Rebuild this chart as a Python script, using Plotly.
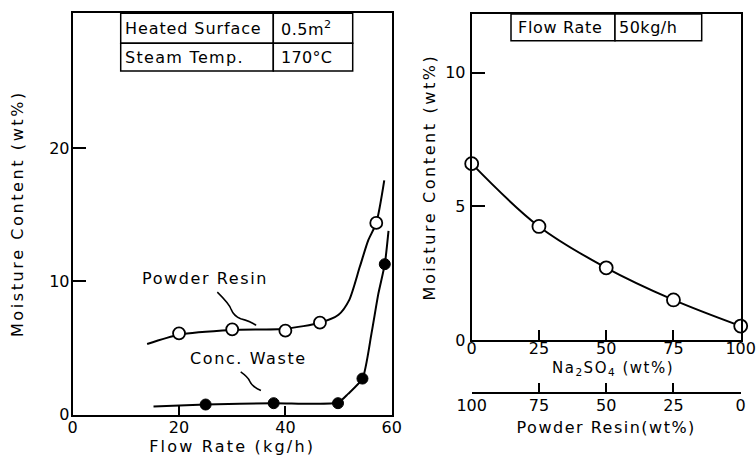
import plotly.graph_objects as go

# ---- Left panel data (moisture content vs flow rate) ----
flow_powder = [20, 30, 40, 46.5, 57.1]
moist_powder = [6.1, 6.4, 6.3, 6.9, 14.4]
flow_conc = [25, 37.8, 49.9, 54.5, 58.7]
moist_conc = [0.75, 0.85, 0.85, 2.7, 11.3]

# hand-drawn fitted curves
powder_curve_x = [14, 20, 30, 40, 46.5, 50, 52, 54, 55.6, 57.1, 58.6]
powder_curve_y = [5.3, 6.0, 6.35, 6.45, 6.9, 7.5, 8.6, 11.1, 13.1, 14.4, 17.6]
conc_curve_x = [15.2, 25, 37.8, 49.9, 51.8, 54.5, 56.2, 57.5, 58.7, 59.4]
conc_curve_y = [0.6, 0.75, 0.85, 0.9, 1.55, 2.7, 6.1, 9.1, 11.3, 13.8]

# ---- Right panel data (moisture content vs composition) ----
na2so4 = [0, 25, 50, 75, 100]
powder_resin_pct = [100, 75, 50, 25, 0]
moist_mix = [6.6, 4.25, 2.7, 1.5, 0.52]

left_xticks = [0, 20, 40, 60]
left_yticks = [0, 10, 20]
right_xticks = [0, 25, 50, 75, 100]
right_yticks = [0, 5, 10]

FONT = "DejaVu Sans"
W, H = 756, 456


def px(x):
    return x / W


def py(y):
    return 1 - y / H


def spaced(text, ls):
    return f'<span style="letter-spacing:{ls}px">{text}</span>'


fig = go.Figure()

line_style = dict(color="black", width=2)

fig.add_trace(go.Scatter(x=powder_curve_x, y=powder_curve_y, mode="lines",
                         line=dict(shape="spline", smoothing=0.7, **line_style),
                         xaxis="x", yaxis="y", hoverinfo="skip", showlegend=False))
fig.add_trace(go.Scatter(x=conc_curve_x, y=conc_curve_y, mode="lines",
                         line=dict(shape="spline", smoothing=0.6, **line_style),
                         xaxis="x", yaxis="y", hoverinfo="skip", showlegend=False))
fig.add_trace(go.Scatter(x=flow_powder, y=moist_powder, mode="markers",
                         marker=dict(symbol="circle", size=12, color="white",
                                     line=dict(color="black", width=1.8)),
                         xaxis="x", yaxis="y", name="Powder Resin", showlegend=False))
fig.add_trace(go.Scatter(x=flow_conc, y=moist_conc, mode="markers",
                         marker=dict(symbol="circle", size=11, color="black",
                                     line=dict(color="black", width=1)),
                         xaxis="x", yaxis="y", name="Conc. Waste", showlegend=False))

fig.add_trace(go.Scatter(x=na2so4, y=moist_mix, mode="lines",
                         line=dict(shape="spline", smoothing=1.0, **line_style),
                         xaxis="x2", yaxis="y2", hoverinfo="skip", showlegend=False))
fig.add_trace(go.Scatter(x=na2so4, y=moist_mix, mode="markers",
                         marker=dict(symbol="circle", size=13, color="white",
                                     line=dict(color="black", width=1.8)),
                         xaxis="x2", yaxis="y2", cliponaxis=False, showlegend=False))
# same points placed on the secondary (powder resin) scale, invisible, so the axis is drawn
fig.add_trace(go.Scatter(x=powder_resin_pct, y=moist_mix, mode="markers",
                         marker=dict(opacity=0), xaxis="x3", yaxis="y2",
                         hoverinfo="skip", showlegend=False))

tickfont = dict(family=FONT, size=16, color="black")
titlefont = dict(family=FONT, size=16, color="black")

common = dict(showline=True, linecolor="black", linewidth=2, mirror=True,
              ticks="inside", tickcolor="black", tickwidth=1.5, showgrid=False,
              zeroline=False, tickfont=tickfont, automargin=False)

fig.update_layout(
    width=W, height=H,
    margin=dict(l=0, r=0, t=0, b=0, pad=0, autoexpand=False),
    paper_bgcolor="white", plot_bgcolor="white",
    font=dict(family=FONT, color="black"),
    xaxis=dict(domain=[px(72.7), px(391.7)], range=[0, 60], tickvals=left_xticks,
               ticklen=9, anchor="y", ticklabelstandoff=-3,
               title=dict(text=spaced("Flow Rate (kg/h)", 2.2), font=titlefont, standoff=3),
               **common),
    yaxis=dict(domain=[py(414.5), py(12.7)], range=[0, 30.2], tickvals=left_yticks,
               ticklen=13, anchor="x", ticklabelstandoff=-2,
               title=dict(text=spaced("Moisture Content (wt%)", 2.6), font=titlefont, standoff=22),
               **common),
    xaxis2=dict(domain=[px(471.7), px(740.7)], range=[0, 100], tickvals=right_xticks,
                ticklen=10, anchor="y2", ticklabelstandoff=-7, **common),
    yaxis2=dict(domain=[py(340), py(14)], range=[0, 12.2], tickvals=right_yticks,
                ticklen=13, anchor="x2", ticklabelstandoff=1,
                title=dict(text=spaced("Moisture Content (wt%)", 2.6), font=titlefont, standoff=6),
                **common),
    xaxis3=dict(overlaying="x2", anchor="free", position=py(393.3), side="bottom",
                range=[100, 0], tickvals=right_xticks, ticks="inside", ticklen=9,
                tickwidth=1.5, tickcolor="black", showline=True, linecolor="black",
                linewidth=2, showgrid=False, zeroline=False, tickfont=tickfont,
                automargin=False, ticklabelstandoff=-3,
                title=dict(text=spaced("Powder Resin(wt%)", 1.5), font=titlefont, standoff=7)),
)

# title of the Na2SO4 axis, placed close under its tick labels as in the original
fig.add_annotation(text=spaced("Na<sub>2</sub>SO<sub>4</sub> (wt%)", 1.5), x=px(613), y=py(368),
                   xref="paper", yref="paper", xanchor="center", yanchor="middle",
                   showarrow=False, font=dict(family=FONT, size=15, color="black"))

# ---- tables (drawn as boxes with text) ----
tbl = dict(type="rect", xref="paper", yref="paper", line=dict(color="black", width=1.5),
           fillcolor="white", layer="above")
fig.add_shape(x0=px(120.7), x1=px(273.3), y0=py(43.3), y1=py(13.3), **tbl)
fig.add_shape(x0=px(273.3), x1=px(352.7), y0=py(43.3), y1=py(13.3), **tbl)
fig.add_shape(x0=px(120.7), x1=px(273.3), y0=py(71), y1=py(43.3), **tbl)
fig.add_shape(x0=px(273.3), x1=px(352.7), y0=py(71), y1=py(43.3), **tbl)
fig.add_shape(x0=px(511), x1=px(615), y0=py(40.7), y1=py(14), **tbl)
fig.add_shape(x0=px(615), x1=px(701.7), y0=py(40.7), y1=py(14), **tbl)


def label(text, x, y, ls=1.0, xanchor="left"):
    fig.add_annotation(text=spaced(text, ls), x=px(x), y=py(y), xref="paper", yref="paper",
                       xanchor=xanchor, yanchor="middle", showarrow=False,
                       font=dict(family=FONT, size=16, color="black"))


label("Heated Surface", 123, 28.5, 0.9)
label("0.5m<sup>2</sup>", 279, 28.5, 0.5)
label("Steam Temp.", 123, 57.5, 1.3)
label("170°C", 279, 57.5, 0.3)
label("Flow Rate", 516, 27.5, 0.7)
label("50kg/h", 617, 27.5, 0.5)

# ---- curve labels with wavy leader lines (left panel, data coords) ----
fig.add_annotation(text=spaced("Powder Resin", 1.6), x=12.7, y=10.2, xref="x", yref="y",
                   xanchor="left", yanchor="middle", showarrow=False,
                   font=dict(family=FONT, size=16, color="black"))
fig.add_annotation(text=spaced("Conc. Waste", 1.6), x=21.7, y=4.2, xref="x", yref="y",
                   xanchor="left", yanchor="middle", showarrow=False,
                   font=dict(family=FONT, size=16, color="black"))

fig.add_shape(type="path", xref="x", yref="y",
              path="M 27.2,9.2 Q 29.5,8.3 29.8,7.9 Q 30.3,7.4 31.6,7.2 Q 33.5,7.0 34.5,6.7",
              line=dict(color="black", width=1.5))
fig.add_shape(type="path", xref="x", yref="y",
              path="M 31.6,3.2 Q 33.0,2.8 33.3,2.5 Q 33.7,2.1 35.4,1.8",
              line=dict(color="black", width=1.5))

# remove the browser's default page margin so the figure fills the window exactly
fig.write_html("out.html", config={"displayModeBar": False},
               post_script="document.body.style.margin='0px';")
